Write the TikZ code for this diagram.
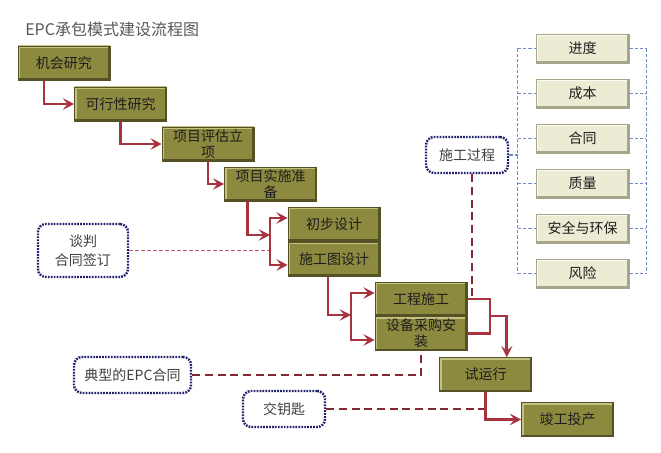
\documentclass[tikz,border=0pt]{standalone}
\usepackage{fontspec}
\setmainfont{Noto Sans CJK SC}
\usetikzlibrary{arrows.meta}
\usetikzlibrary{calc}
\definecolor{olive colour}{RGB}{140,138,62}
\definecolor{olive light}{RGB}{196,194,128}
\definecolor{olive dark}{RGB}{84,82,36}
\definecolor{beige colour}{RGB}{236,235,212}
\definecolor{beige light}{RGB}{252,252,244}
\definecolor{beige dark}{RGB}{168,166,138}
\definecolor{flow colour}{RGB}{166,52,62}
\definecolor{contract colour}{RGB}{130,40,52}
\definecolor{note colour}{RGB}{32,32,110}
\definecolor{scope colour}{RGB}{112,140,198}
\definecolor{text colour}{RGB}{30,30,30}
\tikzset{
    % Barbed arrow heads like the original
    >={Stealth[length=8.5pt, width=8.5pt, inset=3.5pt]},
%
    % Lines
    flow/.style={color=flow colour, line width=2.1pt, line join=miter, ->},
    contract/.style={color=contract colour, line width=1.5pt,
        dash pattern=on 6pt off 3.5pt},
    talk/.style={color=flow colour!80, line width=0.8pt,
        dash pattern=on 3pt off 1.5pt},
    scope/.style={color=scope colour, line width=0.8pt,
        dash pattern=on 2.5pt off 1.5pt},
%
    % Bevelled edges for the boxes
    bevel/.style 2 args={path picture={
        \draw [#1, line width=3pt]
            (path picture bounding box.south west)
            -- (path picture bounding box.north west)
            -- (path picture bounding box.north east);
        \draw [#2, line width=3pt]
            (path picture bounding box.north east)
            -- (path picture bounding box.south east)
            -- (path picture bounding box.south west);
    }},
    every node/.style={align=center},
}

\begin{document}
\begin{tikzpicture}[
    box/.style={draw=olive dark, rectangle, fill=olive colour,
        bevel={olive light}{olive dark}, text=text colour,
        font=\fontsize{10.5}{12}\selectfont, inner sep=1pt,
        minimum width=69pt, minimum height=25.5pt},
    aspect/.style={draw=beige dark, rectangle, fill=beige colour,
        bevel={beige light}{beige dark}, text=text colour,
        font=\fontsize{10.5}{11.5}\selectfont, inner sep=1pt,
        minimum width=69.75pt, minimum height=21.75pt},
    note/.style={draw=note colour, rectangle, rounded corners=6pt,
        line width=1.8pt, dash pattern=on 1.3pt off 0.9pt, fill=white,
        text=text colour!85, font=\fontsize{10.5}{14}\selectfont},
    x=0.75pt, y=-0.75pt,
]

\useasboundingbox [fill=white] (0,0) rectangle (661,453);

\node (title) [anchor=west, text=black!65, font=\fontsize{12}{14}\selectfont,
    inner sep=0] at (25,29) {EPC承包模式建设流程图};

% Main flow, step by step down to the right
\path
    (64,63) node (chance) [box] {机会研究}
    ++(56.5,41) node (feasible) [box] {可行性研究}
    ++(87.5,40) node (assess) [box] {项目评估立\\项}
    ++(62.5,40) node (prep) [box] {项目实施准\\备}
    ++(63.5,40) node (prelim) [box] {初步设计}
    +(0,35) node (drawing) [box] {施工图设计}
    ++(87,75) node (build) [box] {工程施工}
    +(0,34.5) node (procure) [box] {设备采购安\\装}
    ++(64.5,75.5) node (trial) [box] {试运行}
    ++(82,45) node (handover) [box] {竣工投产};

% Notes
\path
    (83,250.5) node (talks) [note, minimum width=67.5pt, minimum height=39.75pt]
        {谈判\\合同签订}
    (467,155) node (process) [note, minimum width=61.5pt, minimum height=27pt]
        {施工过程}
    (132.5,375) node (epc) [note, minimum width=87.75pt, minimum height=27pt]
        {典型的EPC合同}
    (284,409) node (turnkey) [note, minimum width=61.5pt, minimum height=27pt]
        {交钥匙};

% Things watched during construction
\foreach \label [count=\i] in {进度, 成本, 合同, 质量, 安全与环保, 风险}
    \node (aspect \i) [aspect] at (582.5, 3.5+45*\i) {\label};
\coordinate (scope left) at ([xshift=-13.5pt]aspect 1.west);
\coordinate (scope right) at ([xshift=12.75pt]aspect 1.east);
\draw [scope] (scope left) -- (scope left |- aspect 6.west);
\draw [scope] (scope right) -- (scope right |- aspect 6.east);
\foreach \i in {1,...,6}
    \draw [scope] (scope left |- aspect \i.west) -- (aspect \i.west)
        (aspect \i.east) -- (scope right |- aspect \i.east);
\draw [scope] (process.east) -- (process.east -| scope left);

% Forks feeding the paired boxes
\path (270,218) coordinate (design top) (270,235) coordinate (design fork)
    (270,265) coordinate (design bottom);
\path (351,293) coordinate (site top) (351,315) coordinate (site fork)
    (351,340) coordinate (site bottom);
\coordinate (merge) at (490,316);

% Contract types
\draw [talk] (talks) -- (talks -| design fork);
\draw [contract] ([xshift=3.75pt]process.south) -- ([xshift=3.75pt]process.south |- build.east);
\draw [contract] (epc) -| (procure.south);
\draw [contract] (turnkey) -- (turnkey -| trial.south);

\draw [flow] ([xshift=-15pt]chance.south) |- (feasible);
\draw [flow] (feasible) |- (assess);
\draw [flow] (assess) |- (prep);
\draw [flow] ([xshift=-17.5pt]prep.south) |- (design fork);
\draw [flow, <->] (design top -| prelim.west) -- (design top)
    -- (design bottom) -- (design bottom -| drawing.west);
\draw [flow] ([xshift=-4.5pt]drawing.south) |- (site fork);
\draw [flow, <->] (site top -| build.west) -- (site top)
    -- (site bottom) -- (site bottom -| procure.west);
\draw [flow, -] (build.east) -| (merge) |- (procure.east);
\draw [flow] (merge) -| ([xshift=16pt]trial.north);
\draw [flow] (trial) |- (handover);

\end{tikzpicture}
\end{document}
